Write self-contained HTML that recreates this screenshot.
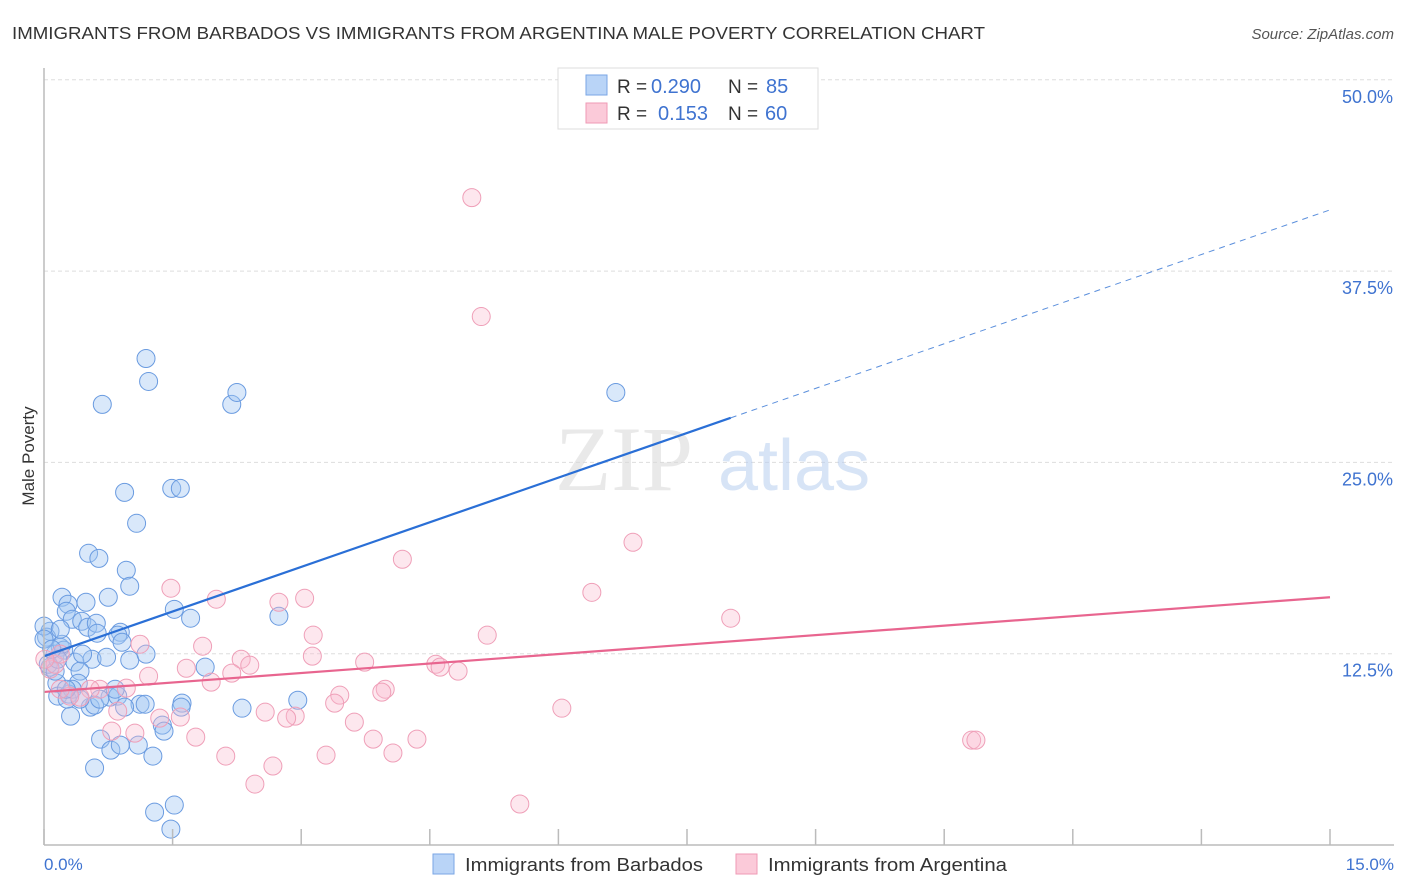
<!DOCTYPE html>
<html><head><meta charset="utf-8"><style>
body{margin:0;background:#fff;font-family:"Liberation Sans",sans-serif;}
svg{display:block}
</style></head><body>
<svg id="chart" width="1406" height="892" xmlns="http://www.w3.org/2000/svg">
<text x="12" y="39" font-size="17.5" fill="#333" textLength="973" lengthAdjust="spacingAndGlyphs">IMMIGRANTS FROM BARBADOS VS IMMIGRANTS FROM ARGENTINA MALE POVERTY CORRELATION CHART</text>
<text x="1394" y="39" font-size="15" fill="#555" font-style="italic" text-anchor="end">Source: ZipAtlas.com</text>
<text transform="translate(34,456) rotate(-90)" font-size="17" fill="#333" text-anchor="middle">Male Poverty</text>
<g id="grid"></g>
<text x="555" y="490" font-size="92" fill="#d8d8d8" font-family="Liberation Serif, serif" opacity="0.55">ZIP</text>
<text x="718" y="490" font-size="72" fill="#b8cff0" opacity="0.55">atlas</text>
<g id="pts"></g>
<g id="trend"></g>
<line x1="44" y1="845" x2="1394" y2="845" stroke="#bbb" stroke-width="1.5"/>
<line x1="44" y1="68" x2="44" y2="845" stroke="#bbb" stroke-width="1.5"/>
<g id="xticks"></g>
<text x="44" y="870" font-size="17" fill="#3f73d0">0.0%</text>
<text x="1394" y="870" font-size="17" fill="#3f73d0" text-anchor="end">15.0%</text>
<g>
<rect x="558" y="68" width="260" height="61" fill="#fff" stroke="#ddd"/>
<rect x="586" y="75" width="21" height="20" fill="#b9d4f7" stroke="#7aa6e4"/>
<rect x="586" y="103" width="21" height="20" fill="#fbcad9" stroke="#ef9ab5"/>
<text x="617" y="93" font-size="19" fill="#333">R =</text>
<text x="651" y="93" font-size="20" fill="#3f73d0">0.290</text>
<text x="728" y="93" font-size="19" fill="#333">N =</text>
<text x="766" y="93" font-size="20" fill="#3f73d0">85</text>
<text x="617" y="120" font-size="19" fill="#333">R =</text>
<text x="658" y="120" font-size="20" fill="#3f73d0">0.153</text>
<text x="728" y="120" font-size="19" fill="#333">N =</text>
<text x="765" y="120" font-size="20" fill="#3f73d0">60</text>
</g>
<g>
<rect x="433" y="854" width="21" height="20" fill="#b9d4f7" stroke="#7aa6e4"/>
<text x="465" y="871" font-size="18" fill="#333" textLength="238" lengthAdjust="spacingAndGlyphs">Immigrants from Barbados</text>
</g>
<g>
<rect x="736" y="854" width="21" height="20" fill="#fbcad9" stroke="#ef9ab5"/>
<text x="768" y="871" font-size="18" fill="#333" textLength="239" lengthAdjust="spacingAndGlyphs">Immigrants from Argentina</text>
</g>
</svg>
<script>
const yTicks=[12.5,25,37.5,50];
const yTickLabels=["12.5%","25.0%","37.5%","50.0%"];
const xTicks=[0,1.5,3,4.5,6,7.5,9,10.5,12,13.5,15];
const blueX=[1.19,1.22,0.68,2.19,2.25,6.67,0.94,1.49,1.59,1.08,0.52,0.64,0.96,1.00,0.21,0.28,0.75,0.49,0.26,0.33,0.44,0.51,0.61,0.62,0.89,0.86,0.91,0.07,0.03,0.19,0.13,0.23,0.21,1.52,1.71,2.74,0.56,0.73,1.00,1.19,0.07,0.36,0.42,0.40,0.15,0.16,0.29,0.54,0.31,0.59,0.77,0.86,1.12,1.18,1.61,1.60,1.88,2.31,2.96,1.38,1.40,0.66,0.78,0.89,1.10,1.27,0.59,1.29,1.52,1.48,0,0,0.05,0.13,0.27,0.33,0.65,0.42,0.16,0.45,0.83,0.94,0.26,0.09,0.19];
const blueY=[31.79,30.29,28.79,28.79,29.57,29.57,23.04,23.30,23.30,21.02,19.06,18.73,17.95,16.91,16.19,15.73,16.19,15.86,15.27,14.75,14.62,14.23,14.49,13.84,13.90,13.71,13.25,13.97,13.58,12.92,12.47,12.73,13.12,15.40,14.82,14.95,12.14,12.27,12.08,12.47,11.62,11.95,11.36,10.57,10.57,9.73,9.86,9.01,8.42,9.14,9.66,9.73,9.20,9.20,9.27,9.01,11.62,8.94,9.46,7.83,7.44,6.92,6.20,6.53,6.53,5.81,5.03,2.15,2.61,1.04,14.30,13.45,11.81,11.36,9.53,10.18,9.53,9.53,12.14,12.47,10.18,9.01,10.18,12.79,14.10];
const pinkX=[4.99,5.10,6.87,4.18,6.39,8.01,5.17,1.48,2.01,2.74,3.04,1.12,1.85,3.14,3.13,2.30,2.40,1.66,2.19,3.74,4.57,4.62,4.83,1.22,1.95,3.98,3.94,3.45,3.39,2.58,2.93,2.83,1.35,0.86,1.59,0.96,0.65,0.54,0.42,0.30,0.19,0.07,0.13,6.04,3.62,3.84,4.35,1.77,1.06,0.79,2.12,3.29,4.07,2.67,2.46,5.55,10.82,10.87,0.19,0.01];
const pinkY=[42.30,34.53,19.78,18.67,16.51,14.82,13.71,16.78,16.06,15.86,16.12,13.12,12.99,13.71,12.34,12.14,11.75,11.55,11.23,11.95,11.81,11.62,11.36,11.03,10.64,10.18,9.99,9.79,9.27,8.68,8.42,8.29,8.29,8.75,8.36,10.25,10.18,10.18,9.66,9.73,10.18,11.49,11.81,8.94,8.03,6.92,6.92,7.05,7.31,7.44,5.81,5.87,6.01,5.16,3.98,2.68,6.85,6.85,12.47,12.14];
const blueTrend=[12.34,41.5];
const blueSolidEnd=8.01;
const pinkTrend=[10.0,16.19];
const NS='http://www.w3.org/2000/svg';
function sx(v){return 44+v/15*1286;}
function sy(v){return 845-v/12.5*191.3;}
function mk(tag,attrs,parent){const e=document.createElementNS(NS,tag);for(const k in attrs)e.setAttribute(k,attrs[k]);document.getElementById(parent).appendChild(e);return e;}
yTicks.forEach((t,i)=>{
 const l=mk('line',{x1:44,x2:1394,y1:sy(t),y2:sy(t),stroke:'#ddd','stroke-dasharray':'4 3'},'grid');
 
 
 const tx=mk('text',{x:1393,y:sy(t)+23,'font-size':18,fill:'#3f73d0','text-anchor':'end'},'grid');
 tx.textContent=yTickLabels[i];
 
 
});
xTicks.forEach(t=>{
 const l=mk('line',{x1:sx(t),x2:sx(t),y1:829,y2:845,stroke:'#bbb','stroke-width':1.5},'xticks');
 
 
});
blueX.forEach((v,i)=>{
 const c=mk('circle',{cx:sx(v),cy:sy(blueY[i]),r:9,fill:'rgba(160,198,242,0.4)',stroke:'#6a9be0','stroke-width':1},'pts');
 
 
});
pinkX.forEach((v,i)=>{
 const c=mk('circle',{cx:sx(v),cy:sy(pinkY[i]),r:9,fill:'rgba(248,185,205,0.35)',stroke:'#ef9fb8','stroke-width':1},'pts');
 
 
});
function by(x){return blueTrend[0]+(blueTrend[1]-blueTrend[0])*x/15;}
const b1=mk('line',{x1:sx(0),y1:sy(by(0)),x2:sx(blueSolidEnd),y2:sy(by(blueSolidEnd)),stroke:'#2a6fd6','stroke-width':2.2},'trend');


const b2=mk('line',{x1:sx(blueSolidEnd),y1:sy(by(blueSolidEnd)),x2:sx(15),y2:sy(by(15)),stroke:'#5b8fdc','stroke-width':1,'stroke-dasharray':'6 5'},'trend');


const p1=mk('line',{x1:sx(0),y1:sy(pinkTrend[0]),x2:sx(15),y2:sy(pinkTrend[1]),stroke:'#e8658f','stroke-width':2.2},'trend');


</script>
</body></html>
